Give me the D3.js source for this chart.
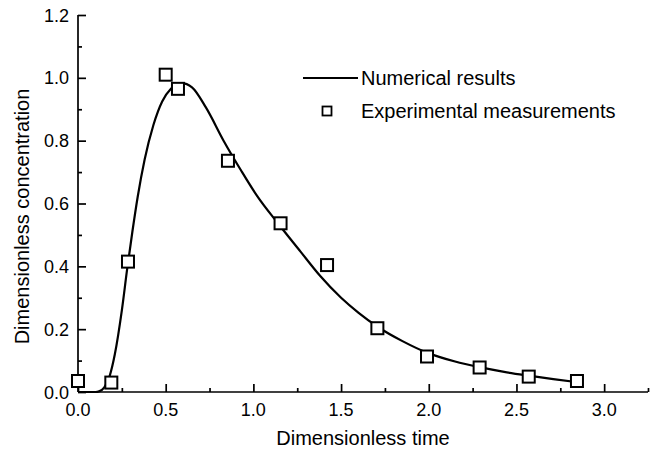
<!DOCTYPE html>
<html>
<head>
<meta charset="utf-8">
<script src="https://cdn.jsdelivr.net/npm/d3@7"></script>
<style>
  body { margin: 0; background: #fff; }
  svg { display: block; font-family: "Liberation Sans", Arial, sans-serif; }
</style>
</head>
<body>
<div id="chart"></div>
<script>
// numerical curve
const curveT = [0, 0.1, 0.12, 0.15, 0.18, 0.21, 0.25, 0.28, 0.31, 0.34, 0.38, 0.43, 0.48, 0.53, 0.59, 0.65, 0.73, 0.83, 0.93, 1.02, 1.15, 1.27, 1.38, 1.5, 1.6, 1.71, 1.85, 2.0, 2.15, 2.29, 2.43, 2.57, 2.71, 2.85];
const curveC = [0, 0, 0.002, 0.015, 0.05, 0.12, 0.26, 0.39, 0.51, 0.62, 0.74, 0.85, 0.925, 0.965, 0.983, 0.97, 0.905, 0.8, 0.705, 0.625, 0.53, 0.446, 0.37, 0.3, 0.252, 0.207, 0.162, 0.123, 0.097, 0.079, 0.064, 0.052, 0.041, 0.031];

// experimental measurements
const expT = [0.0, 0.19, 0.285, 0.5, 0.57, 0.855, 1.155, 1.42, 1.707, 1.99, 2.29, 2.57, 2.845];
const expC = [0.035, 0.03, 0.415, 1.01, 0.965, 0.736, 0.537, 0.404, 0.203, 0.113, 0.078, 0.049, 0.035];

const xTicks = [0, 0.5, 1.0, 1.5, 2.0, 2.5, 3.0];
const yTicks = [0, 0.2, 0.4, 0.6, 0.8, 1.0, 1.2];

const W = 652, H = 455;
const margin = { top: 15, right: 4, bottom: 63, left: 78 };

const svg = d3.select("#chart").append("svg").attr("width", W).attr("height", H);

const x = d3.scaleLinear().domain([0, 3.25]).range([margin.left, W - margin.right]);
const y = d3.scaleLinear().domain([0, 1.2]).range([H - margin.bottom, margin.top]);

// x axis
const gx = svg.append("g")
  .attr("transform", "translate(0," + y(0) + ")")
  .call(d3.axisBottom(x).tickValues(d3.range(0, 3.26, 0.25)).tickSize(-4).tickFormat(""));
gx.selectAll(".tick line").filter(d => Math.abs(d * 2 - Math.round(d * 2)) < 1e-6).attr("y2", -8);
gx.select(".domain").attr("d", "M" + x(0) + ",0H" + x(3.25));

svg.append("g").selectAll("text").data(xTicks).join("text")
  .attr("x", d => x(d)).attr("y", y(0) + 24)
  .attr("text-anchor", "middle").attr("font-size", 18)
  .text(d => d.toFixed(1));

// y axis
const gy = svg.append("g")
  .attr("transform", "translate(" + x(0) + ",0)")
  .call(d3.axisLeft(y).tickValues(d3.range(0, 1.21, 0.1)).tickSize(-4).tickFormat(""));
gy.selectAll(".tick line").filter(d => Math.abs(d * 5 - Math.round(d * 5)) < 1e-6).attr("x2", 8);
gy.select(".domain").attr("d", "M0," + y(0) + "V" + y(1.2));

svg.append("g").selectAll("text").data(yTicks).join("text")
  .attr("x", x(0) - 9).attr("y", d => y(d) + 6.5)
  .attr("text-anchor", "end").attr("font-size", 18)
  .text(d => d.toFixed(1));

svg.selectAll(".domain, .tick line").attr("stroke", "#000").attr("stroke-width", 1.7);

// axis titles
svg.append("text")
  .attr("x", (x(0) + x(3.25)) / 2).attr("y", H - 10)
  .attr("text-anchor", "middle").attr("font-size", 20)
  .text("Dimensionless time");

svg.append("text")
  .attr("transform", "translate(29," + ((y(0) + y(1.2)) / 2 + 13) + ") rotate(-90)")
  .attr("text-anchor", "middle").attr("font-size", 20)
  .text("Dimensionless concentration");

// numerical curve
const line = d3.line()
  .x((d, i) => x(curveT[i]))
  .y((d, i) => y(curveC[i]))
  .curve(d3.curveMonotoneX);

svg.append("path")
  .datum(curveC)
  .attr("d", line)
  .attr("fill", "none").attr("stroke", "#000").attr("stroke-width", 2.2);

// measurements
const sq = 12;
svg.append("g").selectAll("rect").data(expC).join("rect")
  .attr("x", (d, i) => x(expT[i]) - sq / 2)
  .attr("y", d => y(d) - sq / 2)
  .attr("width", sq).attr("height", sq)
  .attr("fill", "#fff").attr("stroke", "#000").attr("stroke-width", 2);

// legend
const lg = svg.append("g");
lg.append("line").attr("x1", 303).attr("x2", 358).attr("y1", 78).attr("y2", 78)
  .attr("stroke", "#000").attr("stroke-width", 2);
lg.append("text").attr("x", 361).attr("y", 85).attr("font-size", 20).text("Numerical results");
lg.append("rect").attr("x", 322.5).attr("y", 106.5).attr("width", 9).attr("height", 9)
  .attr("fill", "#fff").attr("stroke", "#000").attr("stroke-width", 1.8);
lg.append("text").attr("x", 361).attr("y", 118).attr("font-size", 20).text("Experimental measurements");
</script>
</body>
</html>
